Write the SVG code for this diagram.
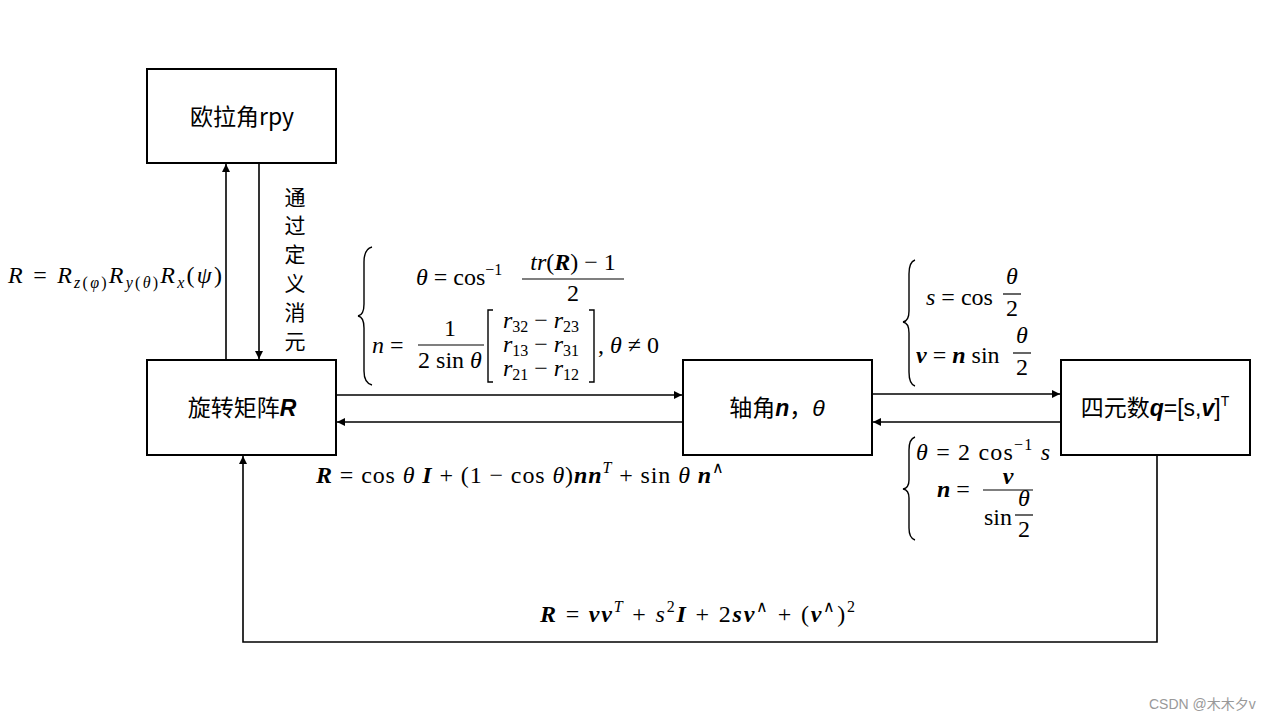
<svg xmlns="http://www.w3.org/2000/svg" width="1280" height="720" viewBox="0 0 1280 720">
<style>
.box{fill:#fff;stroke:#000;stroke-width:2}
.lbl{font-family:"Noto Sans CJK SC","Noto Sans",sans-serif;font-size:23px;fill:#000;text-anchor:middle}
.m{font-family:"Liberation Serif",serif;font-size:24px;fill:#000}
.i{font-style:italic}
.b{font-weight:bold;font-style:italic}
.sm{font-size:16px}
.ln{stroke:#000;stroke-width:1.6;fill:none}
.fr{stroke:#000;stroke-width:1.2}
.br{stroke:#000;stroke-width:1.4;fill:none}
</style>
<defs>
<marker id="ah" viewBox="0 0 10 10" refX="10" refY="5" markerWidth="8" markerHeight="8" markerUnits="userSpaceOnUse" orient="auto">
<path d="M0,0 L10,5 L0,10 z" fill="#000"/>
</marker>
</defs>

<g id="connectors">
<line class="ln" x1="226" y1="360" x2="226" y2="164" marker-end="url(#ah)"/>
<line class="ln" x1="259" y1="164" x2="259" y2="359" marker-end="url(#ah)"/>
<line class="ln" x1="337" y1="395" x2="682" y2="395" marker-end="url(#ah)"/>
<line class="ln" x1="683" y1="422" x2="337" y2="422" marker-end="url(#ah)"/>
<line class="ln" x1="873" y1="394" x2="1060" y2="394" marker-end="url(#ah)"/>
<line class="ln" x1="1061" y1="422" x2="873" y2="422" marker-end="url(#ah)"/>
<polyline class="ln" points="1157,456 1157,642 243,642 243,456" marker-end="url(#ah)"/>
</g>

<g id="node-euler">
<rect class="box" x="147" y="69" width="189" height="94"/>
<text class="lbl" x="242" y="125">欧拉角rpy</text>
</g>
<g id="node-rotation">
<rect class="box" x="147" y="360" width="189" height="95"/>
<text class="lbl" x="242" y="416">旋转矩阵<tspan class="b" font-family="Liberation Sans,sans-serif">R</tspan></text>
</g>
<g id="node-axisangle">
<rect class="box" x="683" y="360" width="189" height="95"/>
<text class="lbl" x="777" y="416">轴角<tspan class="b" font-family="Liberation Sans,sans-serif">n</tspan>，<tspan class="i" font-family="Liberation Sans,sans-serif">θ</tspan></text>
</g>
<g id="node-quaternion">
<rect class="box" x="1061" y="360" width="189" height="95"/>
<text class="lbl" x="1155" y="416">四元数<tspan class="b" font-family="Liberation Sans,sans-serif">q</tspan><tspan font-family="Liberation Sans,sans-serif">=[s,</tspan><tspan class="b" font-family="Liberation Sans,sans-serif">v</tspan><tspan font-family="Liberation Sans,sans-serif">]</tspan><tspan font-family="Liberation Sans,sans-serif" font-size="14" dy="-10">T</tspan></text>
</g>

<g id="labels">
<text class="m" x="8" y="283" textLength="214" lengthAdjust="spacing"><tspan class="i">R</tspan> = <tspan class="i">R</tspan><tspan class="sm i" dy="5">z</tspan><tspan class="sm">(</tspan><tspan class="sm i">φ</tspan><tspan class="sm">)</tspan><tspan class="i" dy="-5">R</tspan><tspan class="sm i" dy="5">y</tspan><tspan class="sm">(</tspan><tspan class="sm i">θ</tspan><tspan class="sm">)</tspan><tspan class="i" dy="-5">R</tspan><tspan class="sm i" dy="5">x</tspan><tspan dy="-5">(</tspan><tspan class="i">ψ</tspan>)</text>

<g font-family="Noto Sans CJK SC,sans-serif" font-size="21" text-anchor="middle" fill="#000">
<text x="295" y="205">通</text>
<text x="295" y="233">过</text>
<text x="295" y="262">定</text>
<text x="295" y="291">义</text>
<text x="295" y="320">消</text>
<text x="295" y="349">元</text>
</g>

<path class="br" d="M372,247 Q364,249 364,262 L364,304 Q364,315 358,316 Q364,317 364,328 L364,371 Q364,383 372,385"/>
<text class="m" x="416" y="285"><tspan class="i">θ</tspan> = cos<tspan class="sm" dy="-10">−1</tspan></text>
<text class="m" x="573" y="270" text-anchor="middle"><tspan class="i">tr</tspan>(<tspan class="b">R</tspan>) − 1</text>
<line class="fr" x1="522" y1="279" x2="624" y2="279"/>
<text class="m" x="573" y="301" text-anchor="middle">2</text>

<text class="m" x="372" y="353"><tspan class="i">n</tspan> =</text>
<text class="m" x="450" y="336" text-anchor="middle">1</text>
<line class="fr" x1="418" y1="345" x2="484" y2="345"/>
<text class="m" x="450" y="368" text-anchor="middle">2 sin <tspan class="i">θ</tspan></text>
<path class="br" d="M493,310 L488,310 L488,382 L493,382"/>
<path class="br" d="M589,310 L594,310 L594,382 L589,382"/>
<text class="m" x="541" y="328" text-anchor="middle"><tspan class="i">r</tspan><tspan class="sm" dy="4">32</tspan><tspan dy="-4"> − </tspan><tspan class="i">r</tspan><tspan class="sm" dy="4">23</tspan></text>
<text class="m" x="541" y="352" text-anchor="middle"><tspan class="i">r</tspan><tspan class="sm" dy="4">13</tspan><tspan dy="-4"> − </tspan><tspan class="i">r</tspan><tspan class="sm" dy="4">31</tspan></text>
<text class="m" x="541" y="376" text-anchor="middle"><tspan class="i">r</tspan><tspan class="sm" dy="4">21</tspan><tspan dy="-4"> − </tspan><tspan class="i">r</tspan><tspan class="sm" dy="4">12</tspan></text>
<text class="m" x="598" y="353">, <tspan class="i">θ</tspan> ≠ 0</text>

<text class="m" x="316" y="483" textLength="408" lengthAdjust="spacing"><tspan class="b">R</tspan> = cos <tspan class="i">θ</tspan> <tspan class="b">I</tspan> + (1 − cos <tspan class="i">θ</tspan>)<tspan class="b">nn</tspan><tspan class="sm i" dy="-10">T</tspan><tspan dy="10"> + sin </tspan><tspan class="i">θ</tspan> <tspan class="b">n</tspan><tspan class="sm" dy="-10">∧</tspan></text>

<path class="br" d="M915,260 Q909,262 909,274 L909,311 Q909,321 903,322 Q909,323 909,333 L909,372 Q909,384 915,386"/>
<text class="m" x="926" y="305"><tspan class="i">s</tspan> = cos</text>
<text class="m i" x="1012" y="284" text-anchor="middle">θ</text>
<line class="fr" x1="1003" y1="294" x2="1021" y2="294"/>
<text class="m" x="1012" y="316" text-anchor="middle">2</text>

<text class="m" x="916" y="363"><tspan class="b">v</tspan> = <tspan class="b">n</tspan> sin</text>
<text class="m i" x="1022" y="343" text-anchor="middle">θ</text>
<line class="fr" x1="1013" y1="353" x2="1031" y2="353"/>
<text class="m" x="1022" y="375" text-anchor="middle">2</text>

<path class="br" d="M915,437 Q909,439 909,450 L909,480 Q909,488 903,489 Q909,490 909,498 L909,528 Q909,538 915,540"/>
<text class="m" x="916" y="460" textLength="134" lengthAdjust="spacing"><tspan class="i">θ</tspan> = 2 cos<tspan class="sm" dy="-10">−1</tspan><tspan class="i" dy="10"> s</tspan></text>
<text class="m" x="937" y="497"><tspan class="b">n</tspan> =</text>
<text class="m" x="1008" y="484" text-anchor="middle"><tspan class="b">v</tspan></text>
<line class="fr" x1="983" y1="490" x2="1033" y2="490"/>
<text class="m" x="984" y="525">sin</text>
<text class="m i" x="1024" y="506" text-anchor="middle">θ</text>
<line class="fr" x1="1015" y1="515" x2="1033" y2="515"/>
<text class="m" x="1024" y="537" text-anchor="middle">2</text>

<text class="m" x="540" y="622" textLength="315" lengthAdjust="spacing"><tspan class="b">R</tspan> = <tspan class="b">vv</tspan><tspan class="sm i" dy="-10">T</tspan><tspan dy="10"> + </tspan><tspan class="i">s</tspan><tspan class="sm" dy="-10">2</tspan><tspan class="b" dy="10">I</tspan> + 2<tspan class="b">sv</tspan><tspan class="sm" dy="-10">∧</tspan><tspan dy="10"> + (</tspan><tspan class="b">v</tspan><tspan class="sm" dy="-10">∧</tspan><tspan dy="10">)</tspan><tspan class="sm" dy="-10">2</tspan></text>

<text x="1149" y="709" font-family="Liberation Sans,sans-serif" font-size="14" fill="#999">CSDN @<tspan font-family="Noto Sans CJK SC,sans-serif">木木夕</tspan>v</text>
</g>
</svg>
